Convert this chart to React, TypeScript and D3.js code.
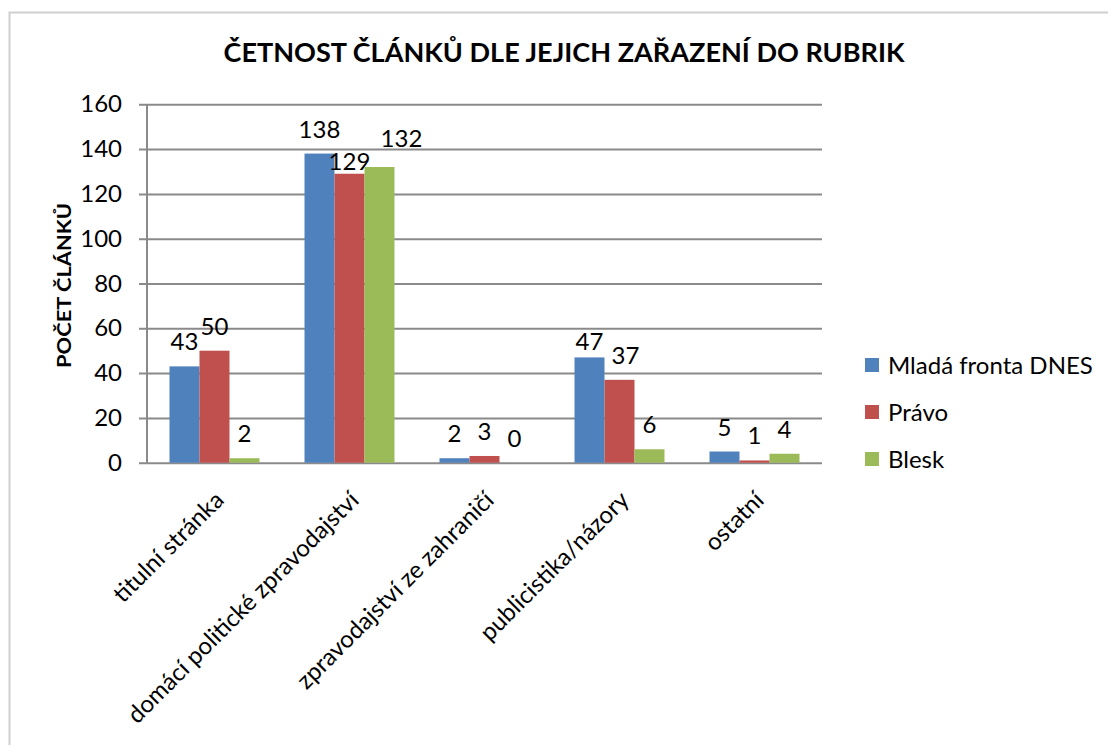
import React, { useEffect, useRef } from 'react';
import * as d3 from 'd3';

const categories = [
  'titulní stránka',
  'domácí politické zpravodajství',
  'zpravodajství ze zahraničí',
  'publicistika/názory',
  'ostatní',
];
const seriesNames = ['Mladá fronta DNES', 'Právo', 'Blesk'];
const mfDnes = [43, 138, 2, 47, 5];
const pravo = [50, 129, 3, 37, 1];
const blesk = [2, 132, 0, 6, 4];
const yTicks = [0, 20, 40, 60, 80, 100, 120, 140, 160];
const colors = ['#4f81bd', '#c0504d', '#9bbb59'];

// Excel moved a few labels to avoid overlaps
const labelNudge: Record<string, [number, number]> = {
  'Právo|domácí politické zpravodajství': [0, 12],
  'Blesk|domácí politické zpravodajství': [22, -4],
  'Mladá fronta DNES|publicistika/názory': [0, 9],
  'Právo|publicistika/názory': [6, 0],
};

const FONT = 'Lato, "Open Sans", sans-serif';

export default function App() {
  const ref = useRef<SVGSVGElement>(null);

  useEffect(() => {
    const svg = d3.select(ref.current);
    svg.selectAll('*').remove();

    const left = 147, right = 822, top = 104.3, bottom = 462.7;
    const values = [mfDnes, pravo, blesk];

    // chart border
    svg.append('rect')
      .attr('x', 9.5).attr('y', 12.5)
      .attr('width', 1110).attr('height', 750)
      .attr('fill', '#fff')
      .attr('stroke', '#d0d0d0').attr('stroke-width', 2);

    const y = d3.scaleLinear().domain([0, 160]).range([bottom, top]);
    const x0 = d3.scaleBand<string>().domain(categories).range([left, right]);
    const x1 = d3.scaleBand<string>().domain(seriesNames)
      .range([0, x0.bandwidth()]).paddingOuter(0.75);

    // grid + y axis
    const yAxis = d3.axisLeft(y)
      .tickValues(yTicks)
      .tickSize(-(right - left))
      .tickSizeOuter(0)
      .tickPadding(25)
      .tickFormat(d3.format('d'));

    const gy = svg.append('g')
      .attr('transform', `translate(${left},0)`)
      .call(yAxis);
    gy.select('.domain').remove();
    gy.selectAll('.tick line')
      .attr('x1', -8)
      .attr('stroke', '#8a8a8a').attr('stroke-width', 2);
    gy.selectAll('.tick text')
      .attr('font-family', FONT).attr('font-size', 24)
      .attr('fill', '#000');

    svg.append('line')
      .attr('x1', left).attr('x2', left)
      .attr('y1', top).attr('y2', bottom)
      .attr('stroke', '#8a8a8a').attr('stroke-width', 2);

    // bars
    seriesNames.forEach((s, si) => {
      const g = svg.append('g');
      g.selectAll('rect')
        .data(values[si]).enter()
        .append('rect')
        .attr('x', (d, i) => x0(categories[i])! + x1(s)!)
        .attr('y', d => y(d))
        .attr('width', x1.bandwidth())
        .attr('height', d => bottom - y(d))
        .attr('fill', colors[si]);

      g.selectAll('text')
        .data(values[si]).enter()
        .append('text')
        .attr('x', (d, i) => {
          const n = labelNudge[`${s}|${categories[i]}`];
          return x0(categories[i])! + x1(s)! + x1.bandwidth() / 2 + (n ? n[0] : 0);
        })
        .attr('y', (d, i) => {
          const n = labelNudge[`${s}|${categories[i]}`];
          return y(d) - 16 + (n ? n[1] : 0);
        })
        .attr('text-anchor', 'middle')
        .attr('font-family', FONT).attr('font-size', 24)
        .text(d => d);
    });

    // x category labels
    svg.append('g').selectAll('text')
      .data(categories).enter()
      .append('text')
      .attr('transform', d => `translate(${x0(d)! + x0.bandwidth() / 2 - 1},${bottom + 27}) rotate(-45)`)
      .attr('text-anchor', 'end')
      .attr('dy', '0.7em')
      .attr('font-family', FONT).attr('font-size', 24)
      .text(d => d);

    // title
    svg.append('text')
      .attr('x', 564).attr('y', 62)
      .attr('text-anchor', 'middle')
      .attr('font-family', FONT).attr('font-size', 27).attr('font-weight', 'bold')
      .attr('textLength', 681).attr('lengthAdjust', 'spacingAndGlyphs')
      .text('ČETNOST ČLÁNKŮ DLE JEJICH  ZAŘAZENÍ DO RUBRIK');

    // y-axis title
    svg.append('text')
      .attr('transform', 'translate(70.5,285.5) rotate(-90)')
      .attr('text-anchor', 'middle')
      .attr('font-family', FONT).attr('font-size', 18).attr('font-weight', 'bold')
      .attr('textLength', 165).attr('lengthAdjust', 'spacingAndGlyphs')
      .text('POČET ČLÁNKŮ');

    // legend
    const legend = svg.append('g').selectAll('g')
      .data(seriesNames).enter()
      .append('g')
      .attr('transform', (d, i) => `translate(865,${365 + i * 47})`);
    legend.append('rect')
      .attr('x', 0).attr('y', -7)
      .attr('width', 14).attr('height', 14)
      .attr('fill', (d, i) => colors[i]);
    legend.append('text')
      .attr('x', 23).attr('y', 9)
      .attr('font-family', FONT).attr('font-size', 24)
      .text(d => d);
  }, []);

  return (
    <svg ref={ref} width={1108} height={745}
      style={{ position: 'absolute', left: 0, top: 0 }} />
  );
}
